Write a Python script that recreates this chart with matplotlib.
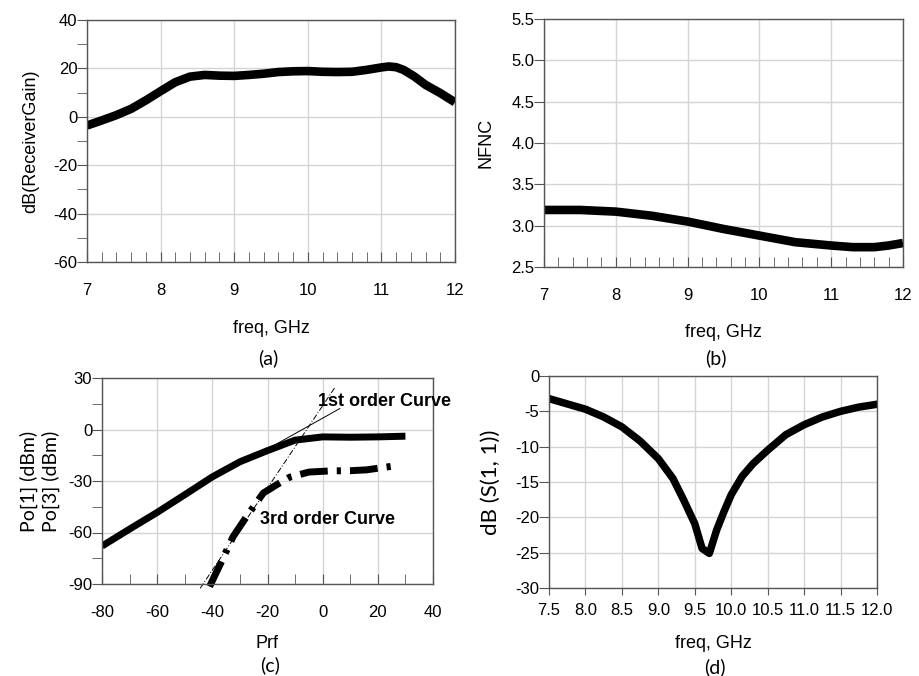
#!/usr/bin/env python3
# -*- coding: utf-8 -*-
"""Receiver simulation summary: gain, NF, IP3 and S11 (four panels)."""
import numpy as np
import matplotlib
matplotlib.use('Agg')
import matplotlib.pyplot as plt
from matplotlib.ticker import MultipleLocator

plt.rcParams['axes.unicode_minus'] = False

# ── (a) receiver gain ────────────────────────────────────────────────────
gain_freq = [7.0, 7.2, 7.4, 7.6, 7.8, 8.0, 8.2, 8.4, 8.6, 8.8, 9.0, 9.2, 9.4,
             9.6, 9.8, 10.0, 10.2, 10.4, 10.6, 10.8, 11.0, 11.1, 11.2, 11.3,
             11.45, 11.6, 11.8, 12.0]
gain_db = [-3.6, -1.5, 0.7, 3.3, 6.8, 10.6, 14.3, 16.6, 17.3, 17.0, 16.9, 17.3,
           17.8, 18.5, 18.8, 18.9, 18.6, 18.5, 18.6, 19.4, 20.4, 20.8, 20.5,
           19.4, 16.6, 13.2, 9.8, 6.0]

# ── (b) noise figure ─────────────────────────────────────────────────────
nf_freq = [7.0, 7.5, 8.0, 8.5, 9.0, 9.5, 10.0, 10.5, 11.0, 11.3, 11.6, 11.8, 12.0]
nf_val = [3.19, 3.19, 3.17, 3.12, 3.05, 2.96, 2.88, 2.80, 2.76, 2.74, 2.74, 2.76, 2.79]

# ── (c) fundamental / 3rd-order output vs input power ───────────────────
prf = [-80, -70, -60, -50, -40, -30, -20, -10, 0, 10, 20, 30]
po1 = [-67.9, -58.0, -48.3, -38.0, -27.6, -18.8, -12.3, -6.2, -4.3, -4.5, -4.3, -3.9]
prf3 = [-41.0, -37.0, -32.5, -27.5, -21.5, -16.5, -12.0, -5.0, 3.0, 10.0, 16.0, 26.0]
po3 = [-91.5, -78.0, -62.5, -50.5, -37.0, -32.0, -27.8, -24.8, -24.1, -24.0, -23.5, -21.2]
ext1_x = [-19.0, 6.2]
ext1_y = [-10.5, 12.2]
ext3_x = [-44.4, 4.4]
ext3_y = [-92.5, 24.4]

# ── (d) input return loss ────────────────────────────────────────────────
s11_freq = [7.5, 8.0, 8.25, 8.5, 8.75, 9.0, 9.2, 9.35, 9.5, 9.6, 9.7, 9.8, 9.9,
            10.0, 10.15, 10.3, 10.5, 10.75, 11.0, 11.25, 11.5, 11.75, 12.0]
s11_db = [-3.2, -4.7, -5.8, -7.2, -9.2, -11.7, -14.5, -17.6, -20.9, -24.4, -25.1,
          -21.8, -19.2, -16.8, -14.2, -12.4, -10.5, -8.3, -6.9, -5.8, -5.0, -4.4, -4.0]

ARIAL = ['Liberation Sans', 'DejaVu Sans']
CALIBRI = ['Lato', 'DejaVu Sans']
SPINE = '#555555'
GRID = '#d4d4d4'

W, H = 920, 676
fig = plt.figure(figsize=(W / 100, H / 100), dpi=100)


def add_ax(left, top, right, bottom):
    return fig.add_axes([left / W, 1 - bottom / H, (right - left) / W, (bottom - top) / H])


def style(ax, xin=True):
    for sp in ax.spines.values():
        sp.set_color(SPINE)
        sp.set_linewidth(1.0)
    ax.grid(True, which='major', color=GRID, lw=1.0)
    ax.set_axisbelow(True)
    ax.tick_params(axis='y', which='both', direction='out', length=7, color=SPINE,
                   labelsize=12, pad=0)
    ax.tick_params(axis='x', which='both', direction='in' if xin else 'out',
                   length=7 if xin else 5, color=SPINE, labelsize=12,
                   pad=15 if xin else 6)
    for lb in ax.get_xticklabels() + ax.get_yticklabels():
        lb.set_family(ARIAL)


# (a)
ax = add_ax(87, 20, 455, 262)
ax.plot(gain_freq, gain_db, color='black', lw=6.2, solid_capstyle='butt')
ax.set_xlim(7, 12)
ax.set_ylim(-60, 40)
ax.xaxis.set_major_locator(MultipleLocator(1))
ax.xaxis.set_minor_locator(MultipleLocator(0.2))
ax.yaxis.set_major_locator(MultipleLocator(20))
ax.yaxis.set_minor_locator(MultipleLocator(10))
style(ax)
ax.set_xlabel('freq, GHz', family=ARIAL, fontsize=13, labelpad=16)
ax.set_ylabel('dB(ReceiverGain)', family=ARIAL, fontsize=13, labelpad=10)

# (b)
ax = add_ax(544, 19, 903, 267)
ax.plot(nf_freq, nf_val, color='black', lw=6.2, solid_capstyle='butt')
ax.set_xlim(7, 12)
ax.set_ylim(2.5, 5.5)
ax.xaxis.set_major_locator(MultipleLocator(1))
ax.xaxis.set_minor_locator(MultipleLocator(0.2))
ax.yaxis.set_major_locator(MultipleLocator(0.5))
ax.yaxis.set_major_formatter('{x:.1f}')
style(ax)
ax.set_xlabel('freq, GHz', family=ARIAL, fontsize=13, labelpad=15)
ax.set_ylabel('NFNC', family=ARIAL, fontsize=13, labelpad=12)

# (c)
ax = add_ax(102, 378, 433, 584)
ax.plot(prf, po1, color='black', lw=5.0, solid_capstyle='butt')
ax.plot(prf3, po3, color='black', lw=5.0, dashes=(4, 1.3, 0.6, 1.3), clip_on=False)
ax.plot(ext1_x, ext1_y, color='black', lw=0.7)
ax.plot(ext3_x, ext3_y, color='black', lw=0.7, ls=(0, (6, 2, 1, 2)), clip_on=False)
ax.text(-1.8, 16.5, '1st order Curve', family=ARIAL, fontsize=13, weight='bold',
        va='center', ha='left')
ax.text(-22.8, -52.5, '3rd order Curve', family=ARIAL, fontsize=13, weight='bold',
        va='center', ha='left')
ax.set_xlim(-80, 40)
ax.set_ylim(-90, 30)
ax.xaxis.set_major_locator(MultipleLocator(20))
ax.xaxis.set_minor_locator(MultipleLocator(10))
ax.yaxis.set_major_locator(MultipleLocator(30))
ax.yaxis.set_minor_locator(MultipleLocator(15))
style(ax)
ax.set_xlabel('Prf', family=ARIAL, fontsize=13, labelpad=11)
ax.set_ylabel('Po[1] (dBm)\nPo[3] (dBm)', family=CALIBRI, fontsize=14,
              labelpad=6, linespacing=1.25)

# (d)
ax = add_ax(549, 376, 877, 588)
ax.plot(s11_freq, s11_db, color='black', lw=5.4, solid_joinstyle='round')
ax.set_xlim(7.5, 12)
ax.set_ylim(-30, 0)
ax.xaxis.set_major_locator(MultipleLocator(0.5))
ax.xaxis.set_major_formatter('{x:.1f}')
ax.yaxis.set_major_locator(MultipleLocator(5))
style(ax, xin=False)
ax.set_xlabel('freq, GHz', family=ARIAL, fontsize=13, labelpad=12)
ax.set_ylabel('dB (S(1, 1))', family=CALIBRI, fontsize=16, labelpad=10)

# captions
for x, y, s in [(268, 358, '(a)'), (716, 358, '(b)'), (270, 665, '(c)'), (715, 667, '(d)')]:
    fig.text(x / W, 1 - y / H, s, family=CALIBRI, fontsize=14, ha='center', va='center')

fig.savefig('out.png', dpi=100)
